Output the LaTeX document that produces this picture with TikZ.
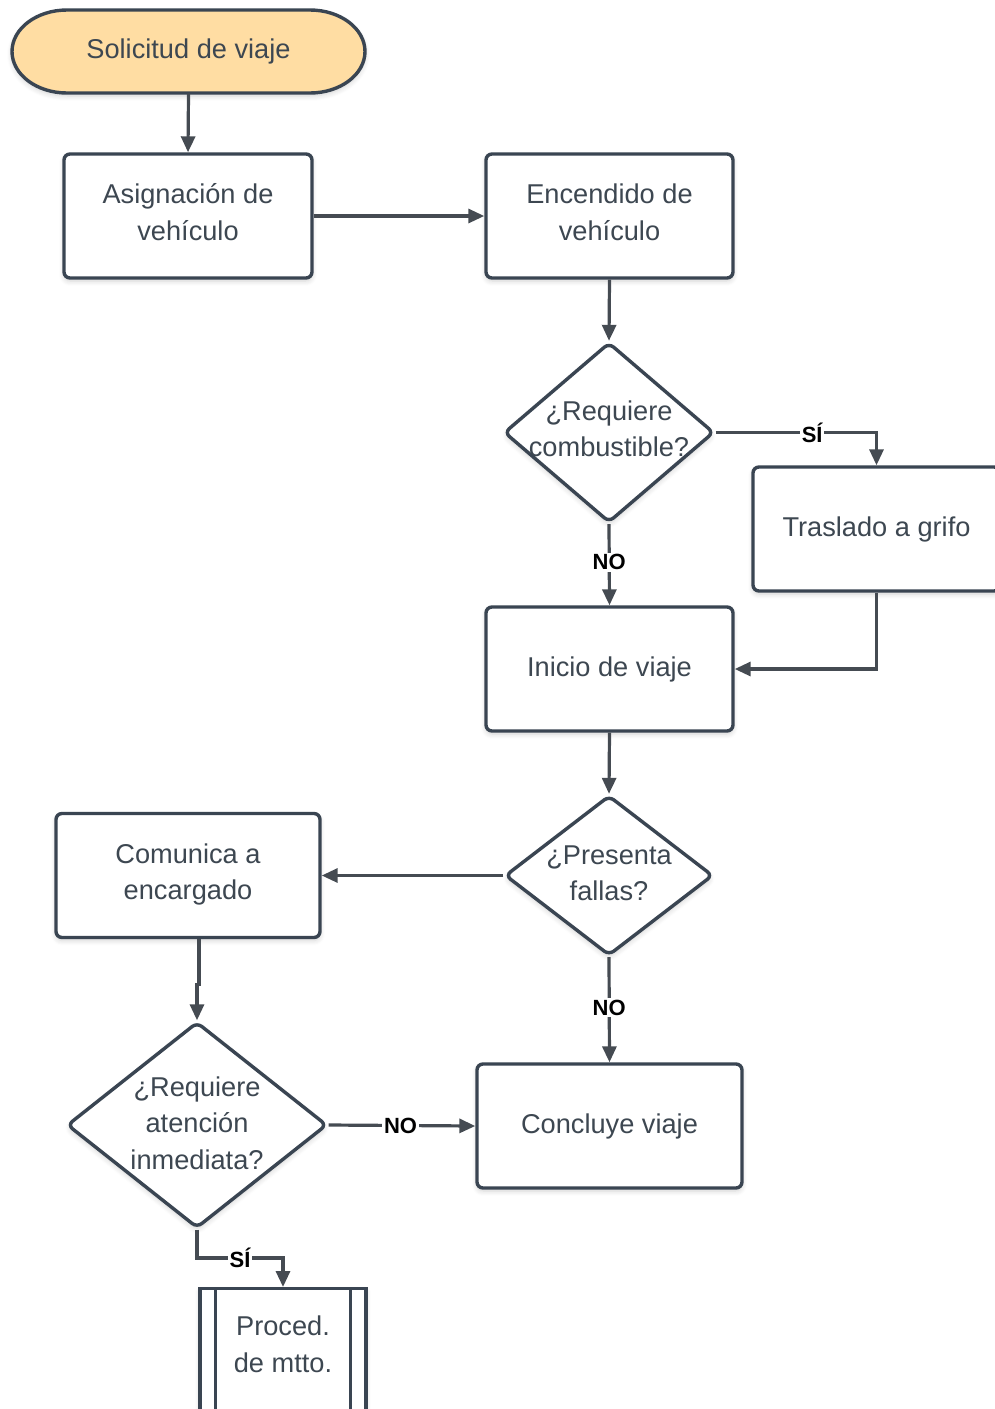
\documentclass[tikz,border=0pt]{standalone}
\usepackage{fontspec}
\setmainfont{Liberation Sans}
\usetikzlibrary{arrows.meta,shapes.geometric,shadows.blur}
\definecolor{edge}{HTML}{3A4552}
\definecolor{ink}{HTML}{3D4751}
\definecolor{wire}{HTML}{454B52}
\definecolor{peach}{HTML}{FFDDA3}
\tikzset{
  soft/.style={blur shadow={shadow xshift=0pt,shadow yshift=-1.5pt,shadow blur radius=2.5pt,shadow opacity=18,shadow blur steps=6}},
  txt/.style={text=ink,font=\fontsize{13.6}{18.2}\selectfont,align=center},
  stepbox/.style={txt,draw=edge,line width=1.7pt,fill=white,rounded corners=3pt,soft,
    minimum width=#1,minimum height=62pt,inner sep=2pt},
  twolines/.style={text depth=4pt},
  dia/.style={diamond,draw=edge,line width=1.7pt,fill=white,rounded corners=3pt,soft,inner sep=0pt},
  arr/.style={draw=wire,line width=1.6pt,-{Triangle[length=8pt,width=7pt]}},
  lbl/.style={font=\bfseries\fontsize{11}{13}\selectfont,text=black,fill=white,inner sep=0.8pt}
}
\begin{document}
\begin{tikzpicture}[x=0.5pt,y=0.5pt]
\useasboundingbox (0,0) rectangle (995,-1409);

% start terminal
\path[draw=edge,line width=1.7pt,fill=peach,soft]
  (67,-10) -- (310,-10)
  arc[start angle=90,end angle=-90,x radius=27.5pt,y radius=20.75pt]
  -- (67,-93)
  arc[start angle=270,end angle=90,x radius=27.5pt,y radius=20.75pt] -- cycle;
\node[txt,minimum width=176.5pt,minimum height=41.5pt,inner sep=0pt] (start) at (188.5,-51.5) {Solicitud de viaje};

% process boxes
\node[stepbox=124pt,twolines] (asig) at (188,-216) {Asignación de\\vehículo};
\node[stepbox=123.5pt,twolines] (enc) at (609.5,-216) {Encendido de\\vehículo};
\node[stepbox=123.5pt] (tras) at (876.5,-529) {Traslado a grifo};
\node[stepbox=123.5pt] (ini) at (609.5,-669) {Inicio de viaje};
\node[stepbox=132pt,twolines] (com) at (188,-875.5) {Comunica a\\encargado};
\node[stepbox=132.5pt] (conc) at (609.5,-1126) {Concluye viaje};

% decisions
\node[dia,minimum width=105pt,minimum height=90pt] (d1) at (609,-432.5) {};
\node[txt] at (609,-429) {¿Requiere\\combustible?};
\node[dia,minimum width=104pt,minimum height=80pt] (d2) at (609,-875.5) {};
\node[txt] at (609,-873) {¿Presenta\\fallas?};
\node[dia,minimum width=130pt,minimum height=103pt] (d3) at (197,-1125) {};
\node[txt] at (197,-1123) {¿Requiere\\atención\\inmediata?};

% predefined process
\node[txt,draw=edge,line width=1.7pt,fill=white,soft,minimum width=83pt,minimum height=62pt,
      anchor=north] (proc) at (283,-1287) {};
\node[txt,anchor=north] at (283,-1309) {Proced.\\de mtto.};
\draw[edge,line width=1.7pt] ([xshift=8.5pt]proc.north west) -- ([xshift=8.5pt]proc.south west);
\draw[edge,line width=1.7pt] ([xshift=-8.5pt]proc.north east) -- ([xshift=-8.5pt]proc.south east);

% connectors
\draw[arr] (start.south) -- (asig.north);
\draw[arr] (asig.east) -- (enc.west);
\draw[arr] (enc.south) -- (d1.north);
\draw[arr] (d1.east) -| node[lbl,pos=0.3]{SÍ} (tras.north);
\draw[arr] (d1.south) -- node[lbl,pos=0.47]{NO} (ini.north);
\draw[arr] (tras.south) |- (ini.east);
\draw[arr] (ini.south) -- (d2.north);
\draw[arr] (d2.west) -- (com.east);
\draw[arr] (d2.south) -- node[lbl,pos=0.48]{NO} (conc.north);
\draw[arr] ([xshift=5.5pt]com.south) -- ++(0,-45) -| (d3.north);
\draw[arr] (d3.east) -- node[lbl,pos=0.49]{NO} (conc.west);
\draw[arr] (d3.south) |- node[lbl,pos=0.75]{SÍ} ([yshift=14.5pt]proc.north) -- (proc.north);
\end{tikzpicture}
\end{document}
